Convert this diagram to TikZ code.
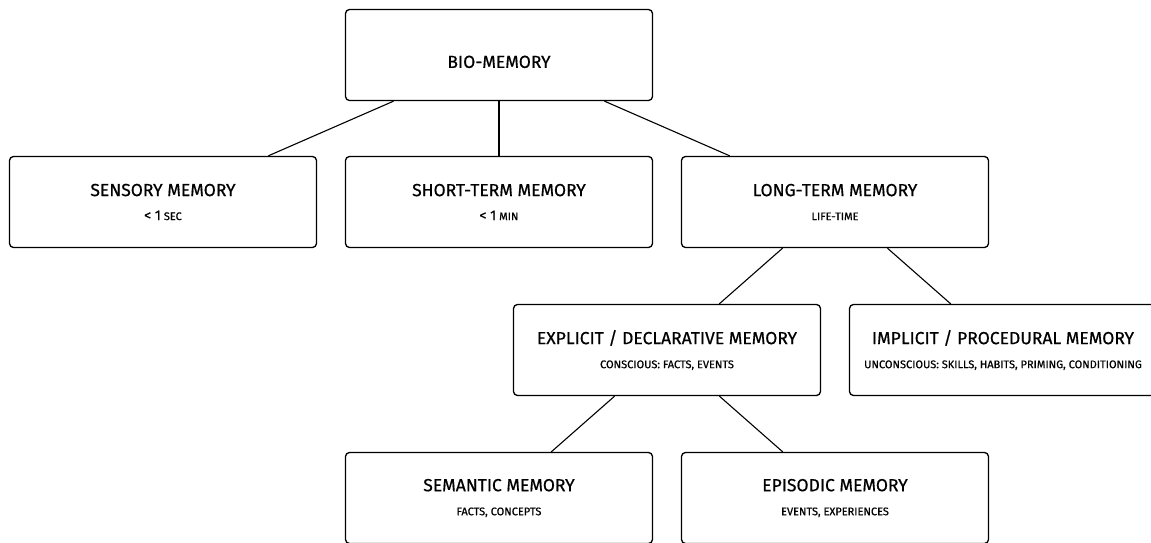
\documentclass[tikz,border=0pt]{standalone}
\usepackage{fontspec}
\setmainfont{Fira Sans}[FakeBold=0.6]
\newcommand{\subtxt}{\fontsize{11}{13}\selectfont}
\newcommand{\bigdig}[1]{{\fontsize{14}{14}\selectfont #1}}

\begin{document}
\begin{tikzpicture}[x=1pt, y=-1pt,
            box/.style={draw, line width=1.3pt, rounded corners=4pt,
                minimum width=307pt, minimum height=91pt, align=center,
                font=\fontsize{17.5}{21}\selectfont,
                execute at begin node=\rule{0pt}{26pt}}]
            \useasboundingbox (0, 0) rectangle (1151, 543);

            \node[box] (bio) at (499, 55) {BIO-MEMORY};
            \node[box] (sensory) at (163, 202)
            {SENSORY MEMORY\\[3pt]{\subtxt \bigdig{< 1} SEC}};
            \node[box] (short) at (499, 202)
            {SHORT-TERM MEMORY\\[3pt]{\subtxt \bigdig{< 1} MIN}};
            \node[box] (long) at (835, 202)
            {LONG-TERM MEMORY\\[3pt]{\subtxt LIFE-TIME}};
            \node[box] (explicit) at (667, 350)
            {EXPLICIT / DECLARATIVE MEMORY\\[3pt]{\subtxt CONSCIOUS: FACTS, EVENTS}};
            \node[box] (implicit) at (1003, 350)
            {IMPLICIT / PROCEDURAL MEMORY\\[3pt]{\subtxt UNCONSCIOUS: SKILLS, HABITS, PRIMING, CONDITIONING}};
            \node[box] (semantic) at (499, 498)
            {SEMANTIC MEMORY\\[3pt]{\subtxt FACTS, CONCEPTS}};
            \node[box] (episodic) at (835, 498)
            {EPISODIC MEMORY\\[3pt]{\subtxt EVENTS, EXPERIENCES}};

            \draw[line width=1.1pt] (bio) -- (sensory);
            \draw[line width=1.1pt] (bio) -- (short);
            \draw[line width=1.1pt] (bio) -- (long);
            \draw[line width=1.1pt] (long) -- (explicit);
            \draw[line width=1.1pt] (long) -- (implicit);
            \draw[line width=1.1pt] (explicit) -- (semantic);
            \draw[line width=1.1pt] (explicit) -- (episodic);
        \end{tikzpicture}
\end{document}
